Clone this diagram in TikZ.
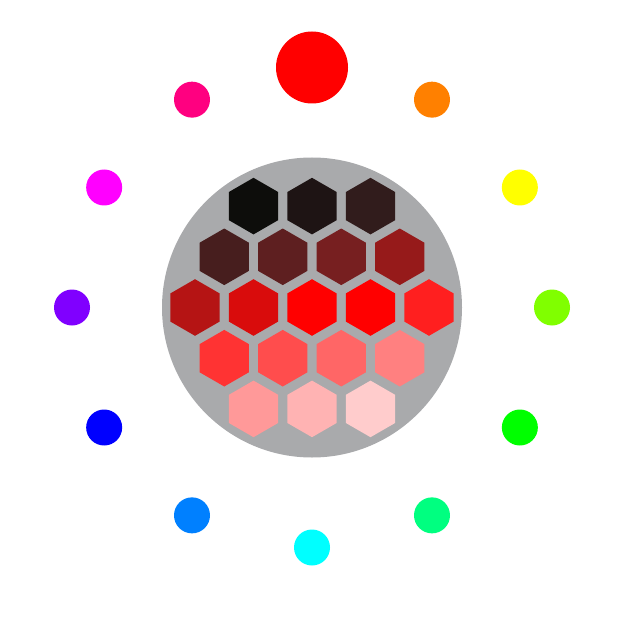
\documentclass[tikz,border=0pt]{standalone}
\usetikzlibrary{shapes.geometric}

\begin{document}
\begin{tikzpicture}[x=1pt,y=-1pt]

\definecolor{discgray}{RGB}{169,170,172}
% hue ring
\definecolor{hue0}{RGB}{255,0,0}
\definecolor{hue30}{RGB}{255,128,0}
\definecolor{hue60}{RGB}{255,255,0}
\definecolor{hue90}{RGB}{128,255,0}
\definecolor{hue120}{RGB}{0,255,0}
\definecolor{hue150}{RGB}{0,255,128}
\definecolor{hue180}{RGB}{0,255,255}
\definecolor{hue210}{RGB}{0,128,255}
\definecolor{hue240}{RGB}{0,0,255}
\definecolor{hue270}{RGB}{128,0,255}
\definecolor{hue300}{RGB}{255,0,255}
\definecolor{hue330}{RGB}{255,0,128}
% shades of the chosen hue
\definecolor{sh01}{RGB}{13,13,11}
\definecolor{sh02}{RGB}{30,20,20}
\definecolor{sh03}{RGB}{49,28,28}
\definecolor{sh04}{RGB}{71,30,30}
\definecolor{sh05}{RGB}{94,31,32}
\definecolor{sh06}{RGB}{119,31,32}
\definecolor{sh07}{RGB}{150,26,26}
\definecolor{sh08}{RGB}{181,20,20}
\definecolor{sh09}{RGB}{217,12,12}
\definecolor{sh10}{RGB}{255,0,0}
\definecolor{sh11}{RGB}{255,0,0}
\definecolor{sh12}{RGB}{255,31,31}
\definecolor{sh13}{RGB}{255,51,51}
\definecolor{sh14}{RGB}{255,77,77}
\definecolor{sh15}{RGB}{255,102,102}
\definecolor{sh16}{RGB}{255,128,128}
\definecolor{sh17}{RGB}{255,153,153}
\definecolor{sh18}{RGB}{255,179,179}
\definecolor{sh19}{RGB}{255,204,204}

\def\cx{312}    % centre x (pt)
\def\cy{307.5}  % centre y (pt, downwards)
\def\rr{240}    % radius of the hue ring
\def\hx{58.5}   % hexagon column step
\def\hy{50.7}   % hexagon row step

\tikzset{
  dot/.style={circle, inner sep=0pt, minimum size=36pt},
  hex/.style={regular polygon, regular polygon sides=6, shape border rotate=30,
              inner sep=0pt, outer sep=0pt, minimum size=56.6pt},
}

\useasboundingbox (0,0) rectangle (628,620);

% ---------------- grey disc ----------------
\node[circle, fill=discgray, inner sep=0pt, minimum size=300pt] (disc) at (\cx,\cy) {};

% ---------------- hue ring ----------------
\node[dot, fill=hue0, minimum size=72pt] (d0) at ({\cx},{\cy-\rr}) {};
\foreach \a/\c in {30/hue30,60/hue60,90/hue90,120/hue120,150/hue150,180/hue180,
                   210/hue210,240/hue240,270/hue270,300/hue300,330/hue330}
  \node[dot, fill=\c] (d\a) at ({\cx+\rr*sin(\a)},{\cy-\rr*cos(\a)}) {};

% ---------------- hexagon shades ----------------
\foreach \c [count=\i] in {sh01,sh02,sh03}
  \node[hex, fill=\c] (ha\i) at ({\cx+(\i-2)*\hx},{\cy-2*\hy}) {};
\foreach \c [count=\i] in {sh04,sh05,sh06,sh07}
  \node[hex, fill=\c] (hb\i) at ({\cx+(\i-2.5)*\hx},{\cy-\hy}) {};
\foreach \c [count=\i] in {sh08,sh09,sh10,sh11,sh12}
  \node[hex, fill=\c] (hc\i) at ({\cx+(\i-3)*\hx},{\cy}) {};
\foreach \c [count=\i] in {sh13,sh14,sh15,sh16}
  \node[hex, fill=\c] (hd\i) at ({\cx+(\i-2.5)*\hx},{\cy+\hy}) {};
\foreach \c [count=\i] in {sh17,sh18,sh19}
  \node[hex, fill=\c] (he\i) at ({\cx+(\i-2)*\hx},{\cy+2*\hy}) {};

\end{tikzpicture}
\end{document}
